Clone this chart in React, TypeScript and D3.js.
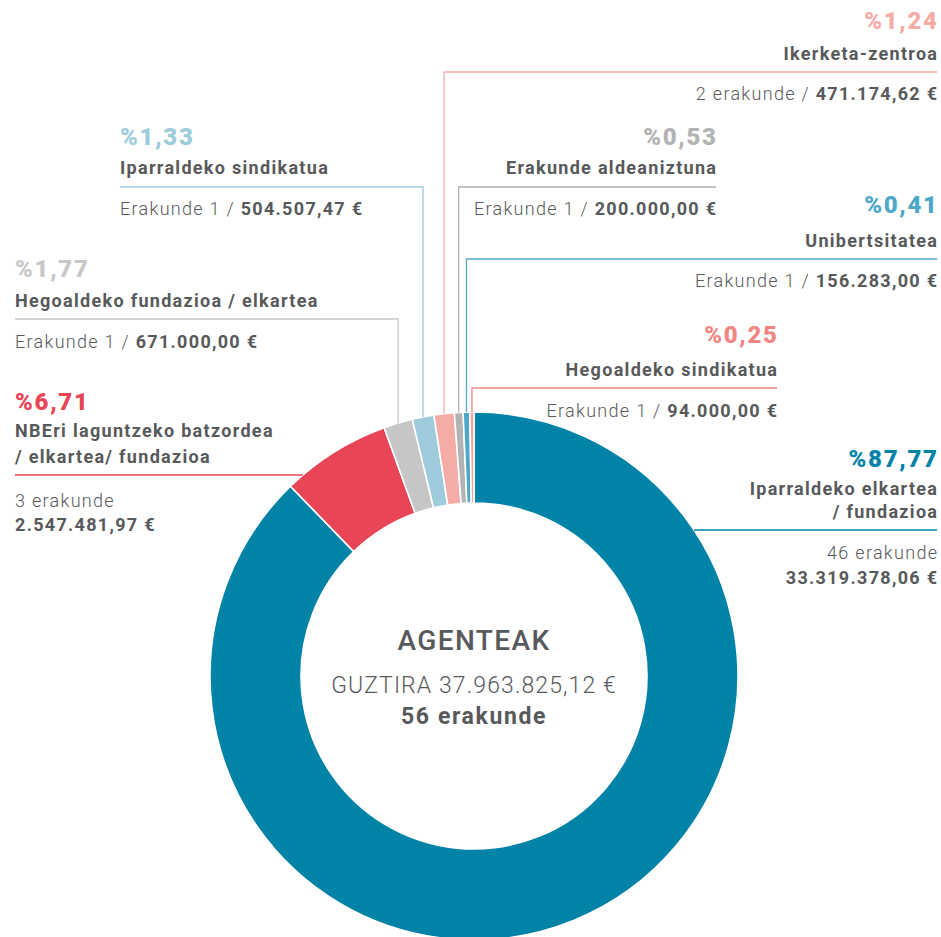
import React from "react";
import * as d3 from "d3";

const categories = [
  "Iparraldeko elkartea / fundazioa",
  "NBEri laguntzeko batzordea / elkartea/ fundazioa",
  "Hegoaldeko fundazioa / elkartea",
  "Iparraldeko sindikatua",
  "Ikerketa-zentroa",
  "Erakunde aldeaniztuna",
  "Unibertsitatea",
  "Hegoaldeko sindikatua",
];
const amounts = [33319378.06, 2547481.97, 671000.0, 504507.47, 471174.62, 200000.0, 156283.0, 94000.0];
const percents = ["87,77", "6,71", "1,77", "1,33", "1,24", "0,53", "0,41", "0,25"];
const counts = [46, 3, 1, 1, 2, 1, 1, 1];
const colors = ["#0083a6", "#e84556", "#c6c6c6", "#9dcbdc", "#f5aca6", "#b3b3b3", "#4ea9c8", "#f4a09c"];
const pctColors = ["#0083a6", "#e84556", "#c8c8c8", "#9dcbdc", "#f5aca6", "#b3b3b3", "#4ea9c8", "#f08784"];

const centerTitle = "AGENTEAK";

// layout per category (positions only)
type Lay = {
  anchor: "start" | "end";
  x: number;
  pct: number;
  title: number[];
  line: number;
  detail: number[];
  lineMode: "vertical" | "arc";
  titleLines: string[];
};
const layout: Lay[] = [
  { anchor: "end", x: 937, pct: 467, title: [495, 518], line: 530, detail: [559, 584], lineMode: "arc", titleLines: ["Iparraldeko elkartea", "/ fundazioa"] },
  { anchor: "start", x: 15, pct: 410, title: [437, 463], line: 475, detail: [507, 531], lineMode: "arc", titleLines: ["NBEri laguntzeko batzordea", "/ elkartea/ fundazioa"] },
  { anchor: "start", x: 15, pct: 277, title: [307], line: 319, detail: [348], lineMode: "vertical", titleLines: ["Hegoaldeko fundazioa / elkartea"] },
  { anchor: "start", x: 120, pct: 145, title: [174], line: 187, detail: [215], lineMode: "vertical", titleLines: ["Iparraldeko sindikatua"] },
  { anchor: "end", x: 937, pct: 29, title: [60], line: 72, detail: [100], lineMode: "vertical", titleLines: ["Ikerketa-zentroa"] },
  { anchor: "end", x: 716, pct: 145, title: [174], line: 187, detail: [215], lineMode: "vertical", titleLines: ["Erakunde aldeaniztuna"] },
  { anchor: "end", x: 937, pct: 213, title: [247], line: 259, detail: [287], lineMode: "vertical", titleLines: ["Unibertsitatea"] },
  { anchor: "end", x: 777, pct: 343, title: [376], line: 388, detail: [417], lineMode: "vertical", titleLines: ["Hegoaldeko sindikatua"] },
];

const W = 941, H = 937;
const cx = 474, cy = 676, R = 264, r = 173;
const FONT = "Roboto, 'Open Sans', sans-serif";
const TXT = "#58595b";
const FS = 18, LS = 1.3, PLS = 1.7;

const locale = d3.formatLocale({ decimal: ",", thousands: ".", grouping: [3], currency: ["", " €"] });
const fmt = locale.format(",.2f");

export default function App() {
  const pie = d3.pie<number>().sort(null).value((d) => d).startAngle(0).endAngle(Math.PI * 2);
  const arcs = pie(amounts);
  const arcGen = d3.arc<d3.PieArcDatum<number>>().innerRadius(r).outerRadius(R);
  const total = d3.sum(amounts);
  const totalCount = d3.sum(counts);

  return (
    <svg width={W} height={H} style={{ position: "absolute", left: 0, top: 0, background: "#fff" }} fontFamily={FONT}>
      <g transform={`translate(${cx},${cy})`}>
        {arcs.map((a, i) => (
          <path key={i} d={arcGen(a) || ""} fill={colors[i]} stroke="#fff" strokeWidth={1.6} />
        ))}
      </g>
      {arcs.map((a, i) => {
        const L = layout[i];
        const mid = (a.startAngle + a.endAngle) / 2;
        let lineEls: React.ReactNode;
        if (L.lineMode === "vertical") {
          const vx = cx + R * Math.sin(mid);
          const vy = cy - R * Math.cos(mid);
          lineEls = (
            <path d={`M${L.x},${L.line}H${vx}V${vy}`} fill="none" stroke={pctColors[i]} strokeWidth={1.3} />
          );
        } else {
          const dy = L.line - cy;
          const dx = Math.sqrt(R * R - dy * dy);
          const ax = L.anchor === "start" ? cx - dx : cx + dx;
          lineEls = <path d={`M${L.x},${L.line}H${ax}`} fill="none" stroke={pctColors[i]} strokeWidth={1.3} />;
        }
        const countText = counts[i] === 1 ? "Erakunde 1" : `${counts[i]} erakunde`;
        const tx = L.anchor === "end" ? L.x + LS : L.x;
        const px = L.anchor === "end" ? L.x + PLS : L.x;
        return (
          <g key={i}>
            {lineEls}
            <text x={px} y={L.pct} textAnchor={L.anchor} fill={pctColors[i]} fontSize={24} fontWeight={900} letterSpacing={PLS}>
              {"%" + percents[i]}
            </text>
            {L.titleLines.map((t, j) => (
              <text key={j} x={tx} y={L.title[j]} textAnchor={L.anchor} fill={TXT} fontSize={FS} fontWeight={700} letterSpacing={LS}>
                {t}
              </text>
            ))}
            {L.detail.length === 1 ? (
              <text x={tx} y={L.detail[0]} textAnchor={L.anchor} fill={TXT} fontSize={FS} fontWeight={300} letterSpacing={LS}>
                {countText + " / "}
                <tspan fontWeight={700}>{fmt(amounts[i]) + " €"}</tspan>
              </text>
            ) : (
              <>
                <text x={tx} y={L.detail[0]} textAnchor={L.anchor} fill={TXT} fontSize={FS} fontWeight={300} letterSpacing={LS}>
                  {countText}
                </text>
                <text x={tx} y={L.detail[1]} textAnchor={L.anchor} fill={TXT} fontSize={FS} fontWeight={700} letterSpacing={LS}>
                  {fmt(amounts[i]) + " €"}
                </text>
              </>
            )}
          </g>
        );
      })}
      <text x={cx} y={650} textAnchor="middle" fill={TXT} fontSize={28} fontWeight={500} letterSpacing={1.4}>
        {centerTitle}
      </text>
      <text x={cx} y={693} textAnchor="middle" fill={TXT} fontSize={23} fontWeight={300} letterSpacing={1.1}>
        {"GUZTIRA " + fmt(total) + " €"}
      </text>
      <text x={cx} y={724} textAnchor="middle" fill={TXT} fontSize={23} fontWeight={700} letterSpacing={1.6}>
        {totalCount + " erakunde"}
      </text>
    </svg>
  );
}
